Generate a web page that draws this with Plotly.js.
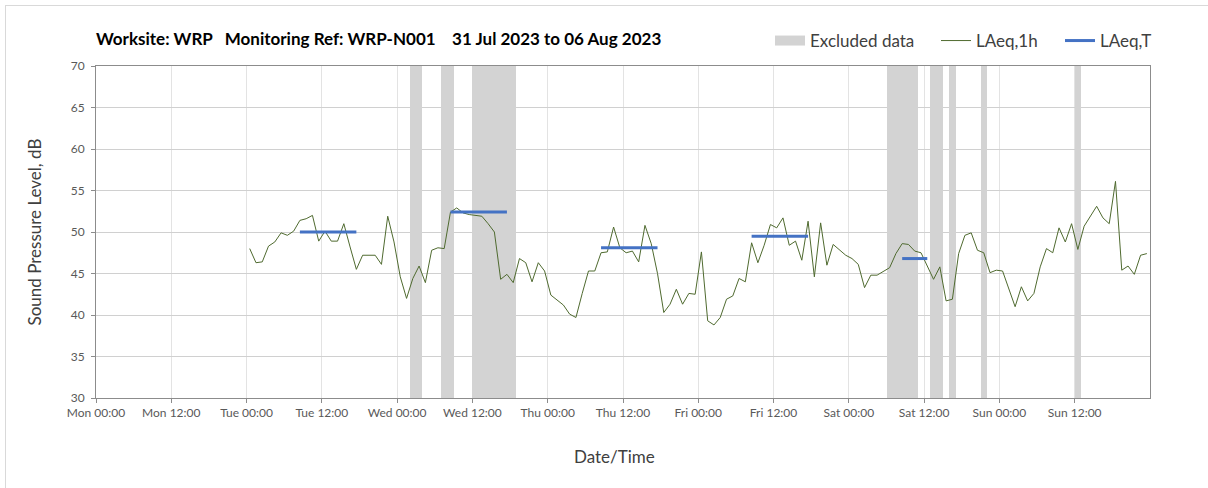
<!DOCTYPE html>
<html>
<head>
<meta charset="utf-8">
<script src="https://cdn.plot.ly/plotly-3.0.1.min.js"></script>
<style>
  html, body { margin: 0; padding: 0; background: #fff; overflow: hidden; }
  #chart { width: 1208px; height: 488px; position: absolute; left: 0; top: 0; }
  #frame { position: absolute; left: 5px; top: 5px; width: 1400px; height: 700px;
           border-left: 1px solid #d9d9d9; border-top: 1px solid #d9d9d9; pointer-events: none; }
</style>
</head>
<body>
<div id="chart"></div>
<div id="frame"></div>
<script>
// ---------------- data ----------------
const titleText = 'Worksite: WRP\u00a0\u00a0 Monitoring Ref: WRP-N001\u00a0\u00a0\u00a0 31 Jul 2023 to 06 Aug 2023';
const xTitle = 'Date/Time';
const yTitle = 'Sound Pressure Level, dB';

// Hourly LAeq,1h values (dB), one value per hour (plotted at hh:30)
const dayDates = ['2023-08-01', '2023-08-02', '2023-08-03', '2023-08-04', '2023-08-05', '2023-08-06'];
const tueValues = [48.0, 46.3, 46.4, 48.3, 48.8, 49.9, 49.6, 50.1, 51.4, 51.6, 52.0, 48.9,
                   50.1, 48.9, 48.9, 51.0, 48.2, 45.5, 47.2, 47.2, 47.2, 46.1, 51.9, 48.8];
const wedValues = [44.6, 42.0, 44.4, 45.9, 43.9, 47.8, 48.1, 48.0, 52.4, 52.9, 52.3, 52.1,
                   52.0, 51.9, 51.0, 50.0, 44.3, 44.9, 43.9, 46.8, 46.3, 44.0, 46.3, 45.3];
const thuValues = [42.4, 41.8, 41.2, 40.1, 39.7, 42.6, 45.3, 45.3, 47.5, 47.6, 50.6, 48.1,
                   47.5, 47.7, 46.4, 50.8, 48.6, 45.0, 40.3, 41.3, 43.1, 41.3, 42.6, 42.5];
const friValues = [47.6, 39.3, 38.8, 39.7, 41.9, 42.3, 44.4, 44.0, 48.7, 46.3, 48.4, 50.9,
                   50.5, 51.7, 48.4, 48.9, 46.6, 51.3, 44.6, 51.1, 46.0, 48.5, 47.8, 47.2];
const satValues = [46.8, 46.1, 43.3, 44.8, 44.8, 45.3, 45.7, 47.4, 48.6, 48.5, 47.7, 47.5,
                   46.0, 44.3, 45.8, 41.7, 41.9, 47.4, 49.6, 49.9, 47.8, 47.5, 45.1, 45.4];
const sunValues = [45.3, 43.2, 41.0, 43.4, 41.7, 42.6, 45.8, 48.0, 47.5, 50.5, 48.8, 51.0,
                   47.9, 50.7, 51.9, 53.1, 51.7, 51.0, 56.1, 45.4, 45.9, 44.9, 47.2, 47.4];
const dayValues = [tueValues, wedValues, thuValues, friValues, satValues, sunValues];

// LAeq,T (working-period averages)
const periodStart = ['2023-08-01 08:30', '2023-08-02 08:30', '2023-08-03 08:30', '2023-08-04 08:30', '2023-08-05 08:30'];
const periodEnd   = ['2023-08-01 17:30', '2023-08-02 17:30', '2023-08-03 17:30', '2023-08-04 17:30', '2023-08-05 12:30'];
const periodLevel = [50.0, 52.4, 48.1, 49.5, 46.8];

// Excluded data periods
const excludedStart = ['2023-08-02 02:00', '2023-08-02 07:00', '2023-08-02 12:00',
                       '2023-08-05 06:00', '2023-08-05 13:00', '2023-08-05 16:00', '2023-08-05 21:00',
                       '2023-08-06 12:00'];
const excludedEnd   = ['2023-08-02 04:00', '2023-08-02 09:00', '2023-08-02 19:00',
                       '2023-08-05 11:00', '2023-08-05 15:00', '2023-08-05 17:00', '2023-08-05 22:00',
                       '2023-08-06 13:00'];

// x tick positions (labels drawn as "%a %H:%M")
const xTicks = ['2023-07-31 00:00', '2023-07-31 12:00', '2023-08-01 00:00', '2023-08-01 12:00',
                '2023-08-02 00:00', '2023-08-02 12:00', '2023-08-03 00:00', '2023-08-03 12:00',
                '2023-08-04 00:00', '2023-08-04 12:00', '2023-08-05 00:00', '2023-08-05 12:00',
                '2023-08-06 00:00', '2023-08-06 12:00'];

const xRange = ['2023-07-31 00:00', '2023-08-07 00:00'];
const yRange = [30, 70];

// ---------------- build ----------------
function toMs(s) {
  const [d, t] = s.split(' ');
  const [Y, M, D] = d.split('-').map(Number);
  const [h, m] = t.split(':').map(Number);
  return Date.UTC(Y, M - 1, D, h, m);
}
const pad = n => (n < 10 ? '0' : '') + n;

const hourX = [], hourY = [];
dayDates.forEach((d, i) => {
  dayValues[i].forEach((v, k) => {
    hourX.push(d + ' ' + pad(k) + ':30');
    hourY.push(v);
  });
});

const tX = [], tY = [];
periodLevel.forEach((lv, i) => {
  tX.push(periodStart[i], periodEnd[i], null);
  tY.push(lv, lv, null);
});

const exX = [], exW = [], exY = [], exBase = [];
excludedStart.forEach((s, i) => {
  const a = toMs(s), b = toMs(excludedEnd[i]);
  exX.push((a + b) / 2);
  exW.push(b - a);
  exY.push(yRange[1] - yRange[0]);
  exBase.push(yRange[0]);
});

const FONT = 'Lato, "Open Sans", sans-serif';

const traces = [
  { type: 'bar', x: exX, y: exY, base: exBase, width: exW, marker: { color: '#d3d3d3', line: { width: 0 } },
    showlegend: false, hoverinfo: 'skip', name: 'Excluded data' },
  { type: 'scatter', mode: 'lines', x: [null], y: [null], name: 'Excluded data', legendwidth: 121,
    line: { color: '#d3d3d3', width: 12 } },
  { type: 'scatter', mode: 'lines', x: hourX, y: hourY, name: 'LAeq,1h', legendwidth: 79,
    line: { color: '#4f6a2f', width: 1 } },
  { type: 'scatter', mode: 'lines', x: tX, y: tY, name: 'LAeq,T', connectgaps: false,
    line: { color: '#4472c4', width: 3 } }
];

const layout = {
  width: 1208, height: 488,
  margin: { l: 96, r: 58, t: 66, b: 90, pad: 0 },
  paper_bgcolor: 'rgba(0,0,0,0)', plot_bgcolor: '#fff',
  font: { family: FONT, color: '#595959', size: 12 },
  title: { text: titleText, x: 96 / 1208, xref: 'container', xanchor: 'left',
           y: 1 - 39 / 488, yref: 'container', yanchor: 'middle',
           font: { family: FONT, size: 17, color: '#000', weight: 'bold' } },
  showlegend: true,
  legend: { orientation: 'h', xref: 'container', yref: 'container', x: 770 / 1208, xanchor: 'left',
            y: 1 - 41 / 488, yanchor: 'middle', font: { family: FONT, size: 17, color: '#404040' },
            traceorder: 'normal', bgcolor: 'rgba(0,0,0,0)' },
  bargap: 0,
  xaxis: {
    type: 'date', range: xRange, tickmode: 'array', tickvals: xTicks,
    tickformat: '%a %H:%M', showgrid: true, gridcolor: '#e3e3e3', gridwidth: 1,
    showline: true, linecolor: '#8c8c8c', linewidth: 1, mirror: true,
    ticks: 'outside', ticklen: 4, tickcolor: '#8c8c8c',
    tickfont: { family: FONT, size: 12, color: '#595959' },
    zeroline: false, fixedrange: true
  },
  yaxis: {
    range: yRange, dtick: 5, tick0: 30, showgrid: true, gridcolor: '#d0d0d0', gridwidth: 1,
    showline: true, linecolor: '#8c8c8c', linewidth: 1, mirror: true,
    ticks: 'outside', ticklen: 4, tickcolor: '#8c8c8c', ticklabelstandoff: 4,
    tickfont: { family: FONT, size: 12, color: '#595959' },
    title: { text: yTitle, font: { family: FONT, size: 17, color: '#404040' }, standoff: 24 },
    zeroline: false, fixedrange: true
  },
  annotations: [
    { text: xTitle, xref: 'paper', yref: 'paper', x: (614 - 96) / 1054, y: -(456 - 398) / 332,
      xanchor: 'center', yanchor: 'middle', showarrow: false,
      font: { family: FONT, size: 17, color: '#404040' } }
  ]
};

Plotly.newPlot('chart', traces, layout, { displayModeBar: false, staticPlot: true });
</script>
</body>
</html>
